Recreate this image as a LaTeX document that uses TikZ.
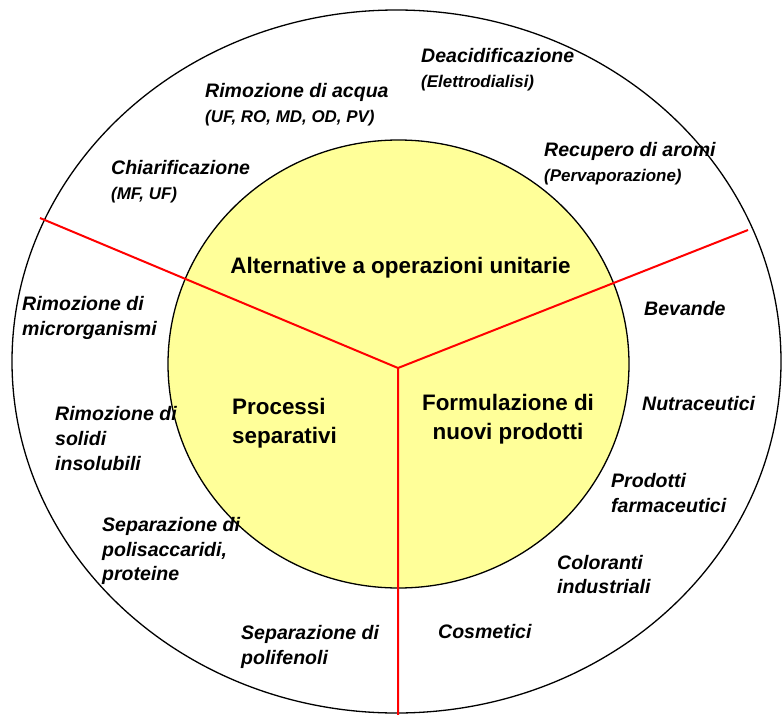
\documentclass[tikz,border=0pt]{standalone}
\usepackage{fontspec}
\setmainfont{Liberation Sans}
\usepackage{xcolor}
\usetikzlibrary{positioning}
\definecolor{giallo}{RGB}{255,255,153}
\newcommand{\sotto}[1]{{\fontsize{17}{21}\selectfont #1}}

\begin{document}
\begin{tikzpicture}[x=1bp,y=-1bp,
		voce/.style={anchor=west,align=left,inner sep=0pt,font=\fontsize{19.6}{25}\selectfont\bfseries\itshape},
		area/.style={align=center,inner sep=0pt,font=\fontsize{22.5}{29}\selectfont\bfseries}]
		\useasboundingbox (0,0) rectangle (782,715);
		
		\draw[line width=1.3bp] (396.5,361.5) ellipse [x radius=384.5, y radius=351.5];
		\draw[line width=1.3bp,fill=giallo] (398.5,364) ellipse [x radius=230.5, y radius=224];
		
		\coordinate (O) at (398,368);
		\coordinate (L) at (40,218);
		\coordinate (R) at (748,230);
		\coordinate (B) at (398,715);
		\draw[red,line width=2bp] (L)--(O)--(R) (O)--(B);
		
		\node[area] (alt) at (400.5,268) {Alternative a operazioni unitarie};
		\node[area,anchor=west,align=left] (sep) at (232,423.5) {Processi\\separativi};
		\node[area] (form) at (508,419.5) {Formulazione di\\nuovi prodotti};
		
		\node[voce] (deac) at (421,69.5) {Deacidificazione\\\sotto{(Elettrodialisi)}};
		\node[voce] (acqua) at (205,104.5) {Rimozione di acqua\\\sotto{(UF, RO, MD, OD, PV)}};
		\node[voce] (chiar) at (111,181.5) {Chiarificazione\\\sotto{(MF, UF)}};
		\node[voce] (aromi) at (544,164) {Recupero di aromi\\\sotto{(Pervaporazione)}};
		
		\node[voce] (micro) at (22,318) {Rimozione di\\microrganismi};
		\node[voce] (solidi) at (55,438.5) {Rimozione di\\solidi\\insolubili};
		\node[voce] (polis) at (102,551) {Separazione di\\polisaccaridi,\\proteine};
		\node[voce] (polif) at (241,646.5) {Separazione di\\polifenoli};
		
		\node[voce] (bev) at (644,309) {Bevande};
		\node[voce] (nutra) at (642,404) {Nutraceutici};
		\node[voce] (farm) at (611,493) {Prodotti\\farmaceutici};
		\node[voce] (color) at (557,574.5) {Coloranti\\industriali};
		\node[voce] (cosm) at (438,632) {Cosmetici};
	\end{tikzpicture}
\end{document}
